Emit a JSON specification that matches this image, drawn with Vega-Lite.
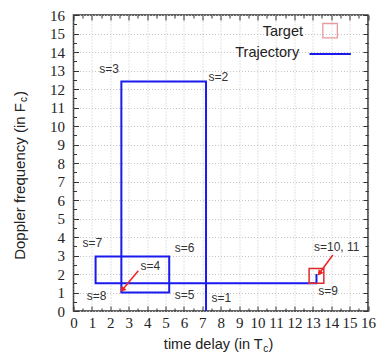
{
  "$schema": "https://vega.github.io/schema/vega-lite/v6.json",
  "width": 294.5,
  "height": 296,
  "autosize": {"type": "none"},
  "padding": {"left": 73.5, "top": 15, "right": 11, "bottom": 44},
  "background": "white",
  "config": {
    "view": {"stroke": "#333333", "strokeWidth": 1.5},
    "font": "Liberation Sans",
    "axis": {"domain": false, "title": null}
  },
  "datasets": {
    "traj": [
      {"s": 1, "t": 7.2, "f": 0},
      {"s": 2, "t": 7.2, "f": 12.4},
      {"s": 3, "t": 2.6, "f": 12.4},
      {"s": 4, "t": 2.6, "f": 1.0},
      {"s": 5, "t": 5.2, "f": 1.0},
      {"s": 6, "t": 5.2, "f": 2.95},
      {"s": 7, "t": 1.2, "f": 2.95},
      {"s": 8, "t": 1.2, "f": 1.5},
      {"s": 9, "t": 13.2, "f": 1.5},
      {"s": 10, "t": 13.2, "f": 2.0}
    ],
    "target": [{"t1": 12.8, "t2": 13.6, "f1": 1.5, "f2": 2.3}],
    "labels": [
      {"label": "s=1", "t": 8.03, "f": 0.69},
      {"label": "s=2", "t": 7.87, "f": 12.65},
      {"label": "s=3", "t": 1.93, "f": 13.06},
      {"label": "s=4", "t": 4.17, "f": 2.45},
      {"label": "s=5", "t": 6.03, "f": 0.86},
      {"label": "s=6", "t": 6.03, "f": 3.39},
      {"label": "s=7", "t": 1.03, "f": 3.68},
      {"label": "s=8", "t": 1.26, "f": 0.81},
      {"label": "s=9", "t": 13.83, "f": 1.08},
      {"label": "s=10, 11", "t": 14.3, "f": 3.48}
    ],
    "arrows": [
      {"t": 3.52, "f": 2.18, "t2": 2.65, "f2": 1.14},
      {"t": 14.09, "f": 3.03, "t2": 13.36, "f2": 2.04}
    ],
    "legendText": [
      {"label": "Target", "t": 12.47, "f": 15.1},
      {"label": "Trajectory", "t": 12.26, "f": 13.93}
    ],
    "legendSquare": [{"t": 13.94, "f": 15.15}],
    "legendLine": [{"t": 12.82, "t2": 15.07, "f": 13.89}],
    "xTitleMain": [{"text": "time delay (in T", "t": 10.28, "f": -1.86}],
    "xTitleSub": [{"text": "c", "t": 10.31, "f": -2.03}],
    "xTitleEnd": [{"text": ")", "t": 10.6, "f": -1.86}],
    "yTitleMain": [{"text": "Doppler frequency (in F", "t": -2.91, "f": 11.24}],
    "yTitleSub": [{"text": "c", "t": -2.7, "f": 11.3}],
    "yTitleEnd": [{"text": ")", "t": -2.91, "f": 11.62}]
  },
  "layer": [
    {
      "data": {"name": "traj"},
      "mark": {"type": "line", "color": "#1a1aee", "strokeWidth": 2},
      "encoding": {
        "x": {
          "field": "t", "type": "quantitative",
          "scale": {"domain": [0, 16], "nice": false, "zero": false},
          "axis": {
            "orient": "bottom",
            "values": [0,1,2,3,4,5,6,7,8,9,10,11,12,13,14,15,16],
            "grid": true, "gridColor": "#c4c4c4", "gridDash": [1, 2], "gridWidth": 1,
            "tickSize": -5, "tickColor": "#333333", "tickWidth": 1,
            "labelFont": "Liberation Sans Narrow", "labelFontSize": 15,
            "labelColor": "#222222", "labelPadding": 9, "labelFlush": false,
            "labelOverlap": false
          }
        },
        "y": {
          "field": "f", "type": "quantitative",
          "scale": {"domain": [0, 16], "nice": false, "zero": false},
          "axis": {
            "orient": "left",
            "values": [0,1,2,3,4,5,6,7,8,9,10,11,12,13,14,15,16],
            "grid": true, "gridColor": "#c4c4c4", "gridDash": [1, 2], "gridWidth": 1,
            "tickSize": -5, "tickColor": "#333333", "tickWidth": 1,
            "labelFont": "Liberation Sans Narrow", "labelFontSize": 15,
            "labelColor": "#222222", "labelPadding": 14, "labelFlush": false,
            "labelOverlap": false
          }
        },
        "order": {"field": "s", "type": "quantitative"}
      }
    },
    {
      "data": {"name": "target"},
      "mark": {"type": "rect", "filled": false, "color": "#e02a2a", "strokeWidth": 1.5},
      "encoding": {
        "x": {
          "field": "t1", "type": "quantitative",
          "axis": {
            "orient": "top",
            "values": [0,1,2,3,4,5,6,7,8,9,10,11,12,13,14,15,16],
            "grid": false, "labels": false,
            "tickSize": -5, "tickColor": "#333333", "tickWidth": 1
          }
        },
        "x2": {"field": "t2"},
        "y": {
          "field": "f1", "type": "quantitative",
          "axis": {
            "orient": "right",
            "values": [0,1,2,3,4,5,6,7,8,9,10,11,12,13,14,15,16],
            "grid": false, "labels": false,
            "tickSize": -5, "tickColor": "#333333", "tickWidth": 1
          }
        },
        "y2": {"field": "f2"}
      }
    },
    {
      "data": {"name": "labels"},
      "mark": {"type": "text", "font": "Liberation Sans", "fontSize": 12, "color": "#333333", "align": "center", "baseline": "middle"},
      "encoding": {
        "x": {
          "field": "t", "type": "quantitative",
          "axis": {
            "orient": "bottom",
            "values": [0.5,1.5,2.5,3.5,4.5,5.5,6.5,7.5,8.5,9.5,10.5,11.5,12.5,13.5,14.5,15.5],
            "grid": false, "labels": false,
            "tickSize": -3, "tickColor": "#333333", "tickWidth": 1
          }
        },
        "y": {
          "field": "f", "type": "quantitative",
          "axis": {
            "orient": "left",
            "values": [0.5,1.5,2.5,3.5,4.5,5.5,6.5,7.5,8.5,9.5,10.5,11.5,12.5,13.5,14.5,15.5],
            "grid": false, "labels": false,
            "tickSize": -3, "tickColor": "#333333", "tickWidth": 1
          }
        },
        "text": {"field": "label"}
      }
    },
    {
      "data": {"name": "legendText"},
      "mark": {"type": "text", "font": "Liberation Sans", "fontSize": 14.5, "color": "#222222", "align": "right", "baseline": "middle"},
      "encoding": {
        "x": {
          "field": "t", "type": "quantitative",
          "axis": {
            "orient": "top",
            "values": [0.5,1.5,2.5,3.5,4.5,5.5,6.5,7.5,8.5,9.5,10.5,11.5,12.5,13.5,14.5,15.5],
            "grid": false, "labels": false,
            "tickSize": -3, "tickColor": "#333333", "tickWidth": 1
          }
        },
        "y": {
          "field": "f", "type": "quantitative",
          "axis": {
            "orient": "right",
            "values": [0.5,1.5,2.5,3.5,4.5,5.5,6.5,7.5,8.5,9.5,10.5,11.5,12.5,13.5,14.5,15.5],
            "grid": false, "labels": false,
            "tickSize": -3, "tickColor": "#333333", "tickWidth": 1
          }
        },
        "text": {"field": "label"}
      }
    },
    {
      "data": {"name": "legendSquare"},
      "mark": {"type": "point", "shape": "square", "size": 210, "filled": false, "color": "#e89a9a", "strokeWidth": 1.3, "opacity": 1},
      "encoding": {
        "x": {"field": "t", "type": "quantitative", "axis": null},
        "y": {"field": "f", "type": "quantitative", "axis": null}
      }
    },
    {
      "data": {"name": "legendLine"},
      "mark": {"type": "rule", "color": "#1a1aee", "strokeWidth": 2},
      "encoding": {
        "x": {"field": "t", "type": "quantitative", "axis": null},
        "x2": {"field": "t2"},
        "y": {"field": "f", "type": "quantitative", "axis": null}
      }
    },
    {
      "data": {"name": "arrows"},
      "mark": {"type": "rule", "color": "#ee2222", "strokeWidth": 1.5},
      "encoding": {
        "x": {"field": "t", "type": "quantitative", "axis": null},
        "y": {"field": "f", "type": "quantitative", "axis": null},
        "x2": {"field": "t2"},
        "y2": {"field": "f2"}
      }
    },
    {
      "data": {"name": "arrows"},
      "mark": {"type": "point", "shape": "triangle-up", "size": 40, "filled": true, "color": "#ee2222", "opacity": 1, "angle": 218, "strokeWidth": 0},
      "encoding": {
        "x": {"field": "t2", "type": "quantitative", "axis": null},
        "y": {"field": "f2", "type": "quantitative", "axis": null}
      }
    },
    {
      "data": {"name": "xTitleMain"},
      "mark": {"type": "text", "font": "Liberation Sans", "fontSize": 14.5, "color": "#222222", "align": "right", "baseline": "middle"},
      "encoding": {
        "x": {"field": "t", "type": "quantitative", "axis": null},
        "y": {"field": "f", "type": "quantitative", "axis": null},
        "text": {"field": "text"}
      }
    },
    {
      "data": {"name": "xTitleSub"},
      "mark": {"type": "text", "font": "Liberation Sans", "fontSize": 10, "color": "#222222", "align": "left", "baseline": "middle"},
      "encoding": {
        "x": {"field": "t", "type": "quantitative", "axis": null},
        "y": {"field": "f", "type": "quantitative", "axis": null},
        "text": {"field": "text"}
      }
    },
    {
      "data": {"name": "xTitleEnd"},
      "mark": {"type": "text", "font": "Liberation Sans", "fontSize": 14.5, "color": "#222222", "align": "left", "baseline": "middle"},
      "encoding": {
        "x": {"field": "t", "type": "quantitative", "axis": null},
        "y": {"field": "f", "type": "quantitative", "axis": null},
        "text": {"field": "text"}
      }
    },
    {
      "data": {"name": "yTitleMain"},
      "mark": {"type": "text", "font": "Liberation Sans", "fontSize": 15, "color": "#222222", "align": "right", "baseline": "middle", "angle": 270},
      "encoding": {
        "x": {"field": "t", "type": "quantitative", "axis": null},
        "y": {"field": "f", "type": "quantitative", "axis": null},
        "text": {"field": "text"}
      }
    },
    {
      "data": {"name": "yTitleSub"},
      "mark": {"type": "text", "font": "Liberation Sans", "fontSize": 10, "color": "#222222", "align": "left", "baseline": "middle", "angle": 270},
      "encoding": {
        "x": {"field": "t", "type": "quantitative", "axis": null},
        "y": {"field": "f", "type": "quantitative", "axis": null},
        "text": {"field": "text"}
      }
    },
    {
      "data": {"name": "yTitleEnd"},
      "mark": {"type": "text", "font": "Liberation Sans", "fontSize": 15, "color": "#222222", "align": "left", "baseline": "middle", "angle": 270},
      "encoding": {
        "x": {"field": "t", "type": "quantitative", "axis": null},
        "y": {"field": "f", "type": "quantitative", "axis": null},
        "text": {"field": "text"}
      }
    }
  ],
  "resolve": {"axis": {"x": "independent", "y": "independent"}}
}
